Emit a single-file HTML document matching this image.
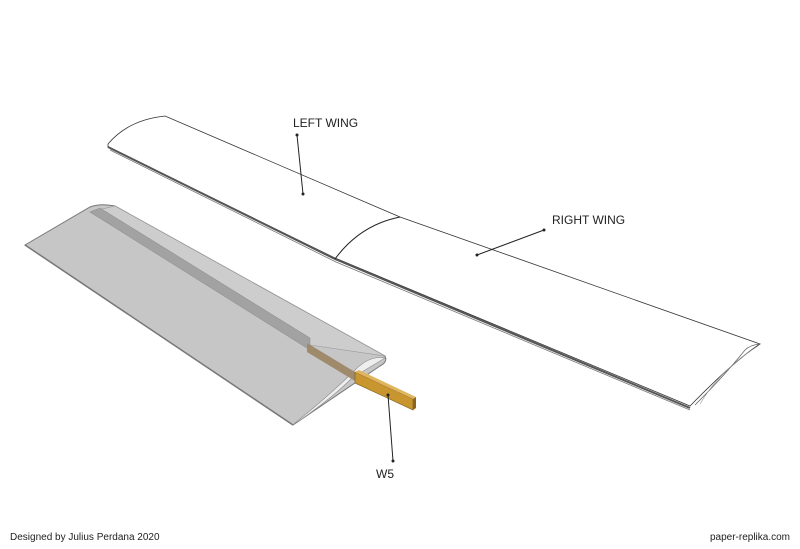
<!DOCTYPE html>
<html><head><meta charset="utf-8"><style>
html,body{margin:0;padding:0;background:#fff;}
svg{display:block;}
text{font-family:"Liberation Sans",Arial,sans-serif;fill:#222;}
</style></head><body>
<svg width="800" height="549" viewBox="0 0 800 549" xmlns="http://www.w3.org/2000/svg">
<!-- Upper (assembled) wing -->
<path d="M108,144 Q128,120 165,116 L400,217 L760,344 Q735,360 690,406 L335,258 L108,147 Z" fill="#fff" stroke="#333" stroke-width="0.8"/>
<path d="M108,147 L335,259 L690,408" fill="none" stroke="#555" stroke-width="2"/>
<path d="M110,150 L336,262 L690,410" fill="none" stroke="#777" stroke-width="0.8"/>
<path d="M335,259 Q360,225 400,217" fill="none" stroke="#222" stroke-width="1"/>
<path d="M760,344 Q750,345 745,350 Q725,375 695,405" fill="none" stroke="#666" stroke-width="0.8"/>
<path d="M758,346 Q720,370 700,404" fill="none" stroke="#999" stroke-width="0.6"/>
<!-- Lower grey wing -->
<path d="M25,245 L90,207 Q100,203 115,206 L385,356 Q388,362 380,366 L293,425 Z" fill="#c6c6c6" stroke="#777" stroke-width="1"/>
<path d="M90,212 L115,206 L385,356 L310,345 Z" fill="#cdcdcd" stroke="#999" stroke-width="0.6"/>
<path d="M90,212 L100,208 L310,338 L310,350 Z" fill="#a2a2a2" stroke="#888" stroke-width="0.5"/>
<path d="M25,245 L293,425" stroke="#777" stroke-width="1.5"/>
<!-- root profile -->
<path d="M293,425 Q330,400 352,378 L385,358 Q370,355 355,370 Q330,395 295,423 Z" fill="#eeeeee" stroke="#888" stroke-width="0.6"/>
<!-- spar inside -->
<path d="M307,343 L355,372 L355,381 L307,352 Z" fill="#a08a6c"/>
<!-- exposed spar -->
<path d="M355,372 L413,399 L413,410 L355,383 Z" fill="#c8952e" stroke="#7a5a1a" stroke-width="0.6"/>
<path d="M355,372 L359,370 L416,397 L413,399 Z" fill="#e0b560"/>
<path d="M413,399 L416,397 L416,408 L413,410 Z" fill="#8a6420"/>
<!-- Leaders -->
<line x1="297" y1="135" x2="303" y2="194" stroke="#222" stroke-width="1"/>
<circle cx="297" cy="135" r="1.5" fill="#222"/><circle cx="303" cy="194" r="1.5" fill="#222"/>
<line x1="544" y1="230" x2="477" y2="255" stroke="#222" stroke-width="1"/>
<circle cx="544" cy="230" r="1.5" fill="#222"/><circle cx="477" cy="255" r="1.5" fill="#222"/>
<line x1="388" y1="395" x2="393" y2="461" stroke="#222" stroke-width="1"/>
<circle cx="388" cy="395" r="1.5" fill="#222"/><circle cx="393" cy="461" r="1.5" fill="#222"/>
<!-- Labels -->
<text x="293" y="127" font-size="12">LEFT WING</text>
<text x="552" y="224" font-size="12">RIGHT WING</text>
<text x="376" y="478" font-size="12">W5</text>
<text x="10" y="540" font-size="10">Designed by Julius Perdana 2020</text>
<text x="790" y="540" font-size="10" text-anchor="end">paper-replika.com</text>
</svg>
</body></html>
